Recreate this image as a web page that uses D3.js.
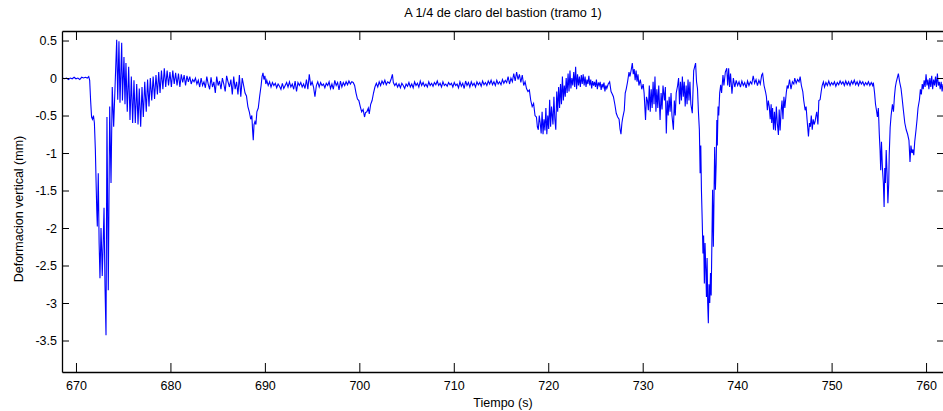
<!DOCTYPE html>
<html>
<head>
<meta charset="utf-8">
<script src="https://cdn.jsdelivr.net/npm/d3@7"></script>
<style>
  body { margin: 0; background: #fff; }
  text { font-family: "Liberation Sans", Arial, Helvetica, sans-serif; }
</style>
</head>
<body>
<script>
// textos de la figura
var titulo = "A 1/4 de claro del bastion (tramo 1)";
var etiquetaX = "Tiempo (s)";
var etiquetaY = "Deformacion vertical (mm)";

// ticks de los ejes
var ticksX = [670, 680, 690, 700, 710, 720, 730, 740, 750, 760];
var ticksY = [0.5, 0, -0.5, -1, -1.5, -2, -2.5, -3, -3.5];

// limites de los ejes
var limX = [668.52, 761.9];
var limY = [-3.92, 0.627];

// registro: [tiempo (s), deformacion (mm)]
var registro = [
  [668.55, 0.0], [668.8, -0.01], [669.0, 0.0], [669.2, -0.02], [669.4, 0.0], [669.6, -0.01],
  [669.8, 0.01], [670.0, -0.01], [670.2, 0.0], [670.4, -0.02], [670.6, 0.01], [670.8, 0.0],
  [671.0, 0.01], [671.2, 0.0], [671.35, 0.02], [671.45, -0.03], [671.55, -0.3], [671.65, -0.52],
  [671.75, -0.55], [671.85, -0.5], [671.95, -0.6], [672.05, -0.95], [672.15, -1.5], [672.2, -1.76],
  [672.26, -1.98], [672.36, -1.27], [672.45, -2.2], [672.54, -2.67], [672.65, -2.0], [672.72, -2.3],
  [672.78, -2.64], [672.88, -2.2], [672.97, -1.73], [673.07, -2.76], [673.18, -3.43], [673.28, -0.52],
  [673.42, -2.83], [673.57, -0.38], [673.71, -1.4], [673.84, -0.12], [673.99, -0.65], [674.13, -0.14],
  [674.31, 0.51], [674.42, -0.29], [674.55, 0.49], [674.66, -0.33], [674.84, 0.47], [674.92, -0.3],
  [675.08, 0.28], [675.19, -0.35], [675.29, 0.2], [675.43, -0.45], [675.58, 0.15], [675.72, -0.56],
  [675.86, 0.02], [676.0, -0.6], [676.14, -0.03], [676.28, -0.6], [676.43, -0.08], [676.57, -0.62],
  [676.7, -0.14], [676.85, -0.65], [676.99, -0.12], [677.13, -0.52], [677.28, -0.05], [677.44, -0.45],
  [677.58, -0.02], [677.73, -0.38], [677.87, 0.0], [678.02, -0.3], [678.17, 0.02], [678.32, -0.28],
  [678.47, 0.04], [678.62, -0.22], [678.76, 0.08], [678.9, -0.2], [679.05, 0.1], [679.2, -0.15],
  [679.35, 0.13], [679.5, -0.12], [679.65, 0.1], [679.8, -0.1], [679.95, 0.08], [680.1, -0.12],
  [680.25, 0.1], [680.4, -0.08], [680.55, 0.07], [680.7, -0.1], [680.85, 0.06], [681.0, -0.12],
  [681.15, 0.05], [681.3, -0.06], [681.45, 0.04], [681.6, -0.1], [681.75, 0.03], [681.9, -0.05],
  [682.05, 0.02], [682.2, -0.08], [682.35, -0.02], [682.5, -0.05], [682.65, 0.0], [682.8, -0.08],
  [682.95, -0.03], [683.1, -0.12], [683.25, 0.0], [683.4, -0.1], [683.55, -0.05], [683.7, -0.13],
  [683.85, 0.02], [684.0, -0.08], [684.15, -0.15], [684.3, 0.01], [684.45, -0.12], [684.6, -0.05],
  [684.75, -0.2], [684.9, 0.02], [685.05, -0.1], [685.2, -0.04], [685.35, -0.15], [685.5, 0.0],
  [685.65, -0.08], [685.8, -0.18], [685.95, 0.03], [686.1, -0.05], [686.25, -0.12], [686.4, -0.02],
  [686.55, -0.22], [686.7, 0.02], [686.85, -0.15], [687.0, -0.05], [687.15, -0.22], [687.3, 0.04],
  [687.45, -0.25], [687.6, 0.0], [687.75, -0.1], [687.9, -0.2], [688.05, -0.24], [688.2, -0.38],
  [688.35, -0.45], [688.5, -0.55], [688.62, -0.5], [688.7, -0.7], [688.77, -0.83], [688.85, -0.62],
  [688.95, -0.58], [689.05, -0.62], [689.15, -0.45], [689.3, -0.4], [689.45, -0.24], [689.6, -0.1],
  [689.7, 0.02], [689.8, 0.07], [689.9, -0.02], [690.0, 0.03], [690.1, -0.08], [690.2, -0.03],
  [690.35, -0.1], [690.5, -0.05], [690.65, -0.12], [690.8, -0.06], [690.95, -0.1], [691.1, -0.07],
  [691.25, -0.13], [691.4, -0.08], [691.55, -0.11], [691.7, -0.15], [691.85, -0.07], [692.0, -0.14],
  [692.15, -0.1], [692.3, -0.06], [692.45, -0.12], [692.6, -0.05], [692.75, -0.12], [692.9, -0.08],
  [693.05, -0.15], [693.2, -0.04], [693.35, -0.18], [693.5, -0.06], [693.65, -0.1], [693.8, -0.06],
  [693.95, -0.12], [694.1, -0.08], [694.25, -0.14], [694.4, -0.02], [694.55, -0.15], [694.7, 0.05],
  [694.85, -0.1], [695.0, -0.05], [695.15, -0.12], [695.3, -0.25], [695.45, -0.1], [695.6, -0.05],
  [695.75, -0.12], [695.9, -0.06], [696.05, -0.1], [696.2, -0.08], [696.35, -0.13], [696.5, -0.07],
  [696.65, -0.1], [696.8, -0.05], [696.95, -0.14], [697.1, -0.08], [697.25, -0.15], [697.4, -0.03],
  [697.55, -0.1], [697.7, -0.06], [697.85, -0.16], [698.0, -0.04], [698.15, -0.12], [698.3, -0.06],
  [698.45, -0.1], [698.6, -0.05], [698.75, -0.09], [698.9, -0.04], [699.05, -0.08], [699.2, -0.05],
  [699.35, -0.06], [699.5, -0.1], [699.65, -0.2], [699.8, -0.28], [699.95, -0.3], [700.1, -0.38],
  [700.25, -0.45], [700.4, -0.42], [700.55, -0.52], [700.65, -0.46], [700.8, -0.45], [700.95, -0.4],
  [701.05, -0.48], [701.2, -0.35], [701.35, -0.3], [701.5, -0.2], [701.65, -0.12], [701.8, -0.07],
  [701.95, -0.12], [702.1, -0.05], [702.25, -0.1], [702.4, -0.04], [702.55, -0.08], [702.7, -0.03],
  [702.85, -0.09], [703.0, -0.05], [703.2, -0.07], [703.35, -0.02], [703.5, 0.05], [703.6, -0.06],
  [703.75, -0.1], [703.9, -0.07], [704.05, -0.12], [704.2, -0.08], [704.35, -0.13], [704.5, -0.07],
  [704.65, -0.1], [704.8, -0.14], [704.95, -0.08], [705.1, -0.11], [705.25, -0.06], [705.4, -0.12],
  [705.55, -0.08], [705.7, -0.13], [705.85, -0.05], [706.0, -0.1], [706.15, -0.07], [706.3, -0.12],
  [706.45, -0.04], [706.6, -0.1], [706.75, -0.06], [706.9, -0.11], [707.05, -0.08], [707.2, -0.12],
  [707.35, -0.05], [707.5, -0.1], [707.65, -0.07], [707.8, -0.11], [707.95, -0.06], [708.1, -0.09],
  [708.25, -0.04], [708.4, -0.1], [708.55, -0.07], [708.7, -0.12], [708.85, -0.05], [709.0, -0.1],
  [709.15, -0.08], [709.3, -0.11], [709.45, -0.06], [709.6, -0.09], [709.75, -0.07], [709.9, -0.12],
  [710.05, -0.06], [710.2, -0.1], [710.35, -0.08], [710.5, -0.13], [710.65, -0.05], [710.8, -0.11],
  [710.95, -0.07], [711.1, -0.14], [711.25, -0.04], [711.4, -0.1], [711.55, -0.06], [711.7, -0.12],
  [711.85, -0.05], [712.0, -0.1], [712.15, -0.07], [712.3, -0.12], [712.45, -0.05], [712.6, -0.09],
  [712.75, -0.06], [712.9, -0.11], [713.05, -0.04], [713.2, -0.09], [713.35, -0.06], [713.5, -0.1],
  [713.65, -0.04], [713.8, -0.08], [713.95, -0.03], [714.1, -0.09], [714.25, -0.05], [714.4, -0.1],
  [714.55, -0.03], [714.7, -0.08], [714.85, -0.05], [715.0, -0.09], [715.15, -0.02], [715.3, -0.07],
  [715.45, -0.03], [715.6, -0.06], [715.75, 0.02], [715.9, -0.08], [716.05, 0.0], [716.2, -0.05],
  [716.35, 0.06], [716.5, -0.04], [716.65, 0.08], [716.8, -0.02], [716.95, 0.05], [717.1, -0.06],
  [717.25, 0.04], [717.4, -0.1], [717.55, -0.05], [717.7, -0.14], [717.85, -0.18], [718.0, -0.16],
  [718.15, -0.3], [718.3, -0.38], [718.45, -0.34], [718.6, -0.5], [718.75, -0.52], [718.85, -0.65],
  [718.95, -0.69], [719.05, -0.5], [719.15, -0.6], [719.25, -0.74], [719.35, -0.45], [719.45, -0.75],
  [719.55, -0.55], [719.65, -0.7], [719.75, -0.4], [719.85, -0.75], [719.95, -0.5], [720.05, -0.68],
  [720.15, -0.29], [720.25, -0.65], [720.35, -0.38], [720.5, -0.62], [720.6, -0.25], [720.7, -0.55],
  [720.8, -0.69], [720.9, -0.18], [721.0, -0.45], [721.1, -0.12], [721.2, -0.4], [721.3, -0.08],
  [721.4, -0.35], [721.5, 0.02], [721.6, -0.3], [721.7, -0.1], [721.8, -0.25], [721.9, 0.0],
  [722.0, -0.2], [722.1, 0.06], [722.2, -0.18], [722.3, 0.1], [722.4, -0.14], [722.5, 0.0],
  [722.6, -0.1], [722.7, 0.08], [722.8, -0.12], [722.9, 0.15], [723.0, -0.15], [723.1, 0.05],
  [723.2, -0.1], [723.3, 0.02], [723.4, -0.12], [723.5, 0.04], [723.6, -0.08], [723.7, 0.05],
  [723.8, -0.1], [723.9, 0.02], [724.0, -0.12], [724.1, -0.02], [724.2, -0.08], [724.3, 0.03],
  [724.4, -0.1], [724.5, -0.02], [724.6, -0.14], [724.7, -0.04], [724.8, -0.1], [724.9, -0.05],
  [725.0, -0.12], [725.1, -0.02], [725.2, -0.15], [725.3, -0.06], [725.4, -0.1], [725.5, -0.05],
  [725.6, -0.16], [725.7, -0.08], [725.8, -0.12], [725.9, -0.06], [726.0, -0.18], [726.1, -0.1],
  [726.2, -0.14], [726.35, -0.08], [726.5, -0.05], [726.65, -0.18], [726.8, -0.22], [726.9, -0.25],
  [727.05, -0.35], [727.2, -0.47], [727.35, -0.52], [727.5, -0.55], [727.6, -0.68], [727.7, -0.75],
  [727.8, -0.6], [727.9, -0.52], [728.05, -0.43], [728.15, -0.2], [728.25, -0.15], [728.4, -0.05],
  [728.55, 0.08], [728.65, 0.02], [728.8, 0.12], [728.9, 0.2], [729.0, 0.05], [729.1, 0.12],
  [729.2, -0.03], [729.3, 0.1], [729.4, -0.05], [729.5, 0.05], [729.6, -0.1], [729.75, -0.02],
  [729.9, -0.15], [730.05, -0.08], [730.15, -0.2], [730.3, -0.56], [730.4, -0.25], [730.5, -0.3],
  [730.6, -0.43], [730.7, -0.1], [730.8, -0.45], [730.9, -0.15], [731.0, -0.4], [731.1, -0.05],
  [731.2, -0.35], [731.3, 0.02], [731.4, -0.45], [731.5, -0.15], [731.6, -0.4], [731.7, -0.1],
  [731.84, -0.56], [731.95, -0.2], [732.05, -0.42], [732.15, -0.1], [732.3, -0.3], [732.4, -0.12],
  [732.5, -0.74], [732.6, -0.3], [732.7, -0.5], [732.8, -0.25], [732.9, -0.45], [733.0, -0.2],
  [733.1, -0.5], [733.25, -0.69], [733.35, -0.3], [733.45, -0.5], [733.55, -0.2], [733.7, -0.1],
  [733.8, 0.0], [733.9, -0.35], [734.0, -0.05], [734.1, -0.3], [734.2, 0.02], [734.3, -0.25],
  [734.4, -0.05], [734.5, -0.38], [734.6, -0.1], [734.7, -0.35], [734.8, -0.02], [734.9, -0.3],
  [735.0, -0.05], [735.1, -0.35], [735.25, -0.47], [735.4, 0.1], [735.5, 0.15], [735.6, 0.2],
  [735.7, -0.05], [735.8, -0.14], [735.9, -0.45], [736.0, -0.69], [736.08, -1.27], [736.15, -0.9],
  [736.22, -1.5], [736.3, -1.89], [736.38, -2.34], [736.45, -2.1], [736.53, -2.74], [736.6, -2.2],
  [736.68, -2.55], [736.75, -2.92], [736.82, -2.4], [736.88, -3.0], [736.95, -3.27], [737.02, -2.75],
  [737.1, -3.0], [737.18, -2.6], [737.25, -2.9], [737.32, -2.25], [737.4, -1.49], [737.48, -2.25],
  [737.55, -1.6], [737.62, -0.92], [737.7, -1.49], [737.78, -1.14], [737.85, -0.56], [737.9, -0.9],
  [737.98, -0.38], [738.05, -0.5], [738.15, -0.2], [738.26, -0.09], [738.35, -0.2], [738.5, 0.04],
  [738.6, -0.1], [738.75, 0.08], [738.9, 0.13], [739.0, -0.1], [739.1, 0.13], [739.2, -0.12],
  [739.3, 0.06], [739.45, -0.21], [739.6, 0.0], [739.75, -0.12], [739.9, -0.03], [740.05, -0.1],
  [740.2, -0.05], [740.35, -0.12], [740.5, -0.04], [740.65, -0.1], [740.8, -0.06], [740.95, -0.13],
  [741.1, -0.04], [741.25, -0.1], [741.4, -0.05], [741.55, -0.08], [741.7, 0.03], [741.85, -0.07],
  [742.0, -0.02], [742.15, -0.1], [742.3, -0.03], [742.45, -0.08], [742.6, 0.04], [742.7, 0.06],
  [742.85, -0.1], [743.0, -0.18], [743.1, -0.25], [743.2, -0.43], [743.3, -0.3], [743.4, -0.38],
  [743.5, -0.55], [743.6, -0.35], [743.66, -0.6], [743.75, -0.4], [743.85, -0.69], [743.95, -0.45],
  [744.05, -0.7], [744.15, -0.38], [744.25, -0.6], [744.37, -0.76], [744.45, -0.42], [744.55, -0.7],
  [744.65, -0.45], [744.75, -0.3], [744.85, -0.55], [744.95, -0.25], [745.05, -0.4], [745.2, -0.2],
  [745.3, -0.1], [745.4, -0.14], [745.55, -0.02], [745.7, -0.15], [745.85, -0.05], [746.0, -0.08],
  [746.1, 0.0], [746.25, -0.07], [746.4, -0.02], [746.55, -0.05], [746.67, 0.02], [746.8, -0.1],
  [746.95, -0.18], [747.05, -0.3], [747.2, -0.43], [747.3, -0.38], [747.4, -0.55], [747.55, -0.78],
  [747.65, -0.6], [747.75, -0.65], [747.85, -0.5], [747.95, -0.69], [748.05, -0.55], [748.15, -0.62],
  [748.25, -0.58], [748.35, -0.5], [748.43, -0.45], [748.55, -0.62], [748.65, -0.3], [748.78, -0.29],
  [748.9, -0.18], [749.0, -0.1], [749.13, -0.05], [749.25, -0.12], [749.4, -0.06], [749.55, -0.1],
  [749.7, -0.04], [749.85, -0.1], [750.0, -0.06], [750.15, -0.09], [750.3, -0.05], [750.45, -0.11],
  [750.6, -0.06], [750.75, -0.09], [750.9, -0.04], [751.05, -0.08], [751.2, -0.05], [751.35, -0.1],
  [751.5, -0.04], [751.65, -0.09], [751.8, -0.05], [751.95, -0.1], [752.1, -0.04], [752.25, -0.08],
  [752.4, -0.03], [752.55, -0.09], [752.7, -0.05], [752.85, -0.1], [753.0, -0.04], [753.15, -0.08],
  [753.3, -0.05], [753.45, -0.1], [753.6, -0.06], [753.75, -0.09], [753.9, -0.05], [754.05, -0.1],
  [754.2, -0.06], [754.35, -0.1], [754.42, -0.06], [754.55, -0.2], [754.65, -0.35], [754.75, -0.43],
  [754.85, -0.52], [754.95, -0.4], [755.05, -0.75], [755.13, -0.96], [755.2, -1.23], [755.28, -0.85],
  [755.38, -1.2], [755.48, -1.4], [755.56, -1.72], [755.63, -1.2], [755.7, -1.4], [755.78, -0.96],
  [755.88, -1.3], [755.96, -1.67], [756.05, -1.4], [756.1, -1.03], [756.2, -0.66], [756.3, -0.5],
  [756.44, -0.35], [756.55, -0.45], [756.65, -0.25], [756.75, -0.12], [756.85, -0.05], [756.95, 0.0],
  [757.07, 0.06], [757.2, -0.05], [757.35, -0.14], [757.45, -0.25], [757.6, -0.43], [757.75, -0.6],
  [757.9, -0.69], [758.05, -0.75], [758.19, -0.83], [758.3, -1.12], [758.4, -0.9], [758.5, -1.0],
  [758.6, -0.95], [758.7, -1.03], [758.8, -0.85], [758.94, -0.69], [759.05, -0.55], [759.15, -0.4],
  [759.3, -0.29], [759.4, -0.15], [759.5, -0.22], [759.6, -0.08], [759.7, -0.15], [759.8, -0.03],
  [759.9, -0.12], [760.0, 0.05], [760.1, -0.1], [760.2, -0.02], [760.3, -0.15], [760.4, 0.0],
  [760.5, -0.12], [760.6, 0.03], [760.7, -0.15], [760.8, -0.02], [760.9, -0.1], [761.0, 0.02],
  [761.1, -0.12], [761.2, 0.06], [761.3, -0.1], [761.4, -0.05], [761.5, -0.15], [761.6, -0.05],
  [761.7, -0.18], [761.8, -0.08]
];

var width = 943, height = 411;
var margin = {top: 31, right: -1, bottom: 39, left: 62};
var w = width - margin.left - margin.right,
    h = height - margin.top - margin.bottom;

var svg = d3.select("body").append("svg")
        .attr("width", width)
        .attr("height", height);

var g = svg.append("g")
        .attr("transform", "translate(" + margin.left + "," + margin.top + ")");

var x = d3.scaleLinear().domain(limX).range([0, w]);
var y = d3.scaleLinear().domain(limY).range([h, 0]);

// la curva
g.append("defs").append("clipPath").attr("id", "recorte")
        .append("rect").attr("width", w).attr("height", h);

var linea = d3.line()
        .x(function (d) { return x(d[0]); })
        .y(function (d) { return y(d[1]); });

g.append("path")
        .datum(registro)
        .attr("clip-path", "url(#recorte)")
        .attr("fill", "none")
        .attr("stroke", "#0000ff")
        .attr("stroke-width", 1.1)
        .attr("stroke-linejoin", "miter")
        .attr("d", linea);

// ejes estilo matlab: ticks hacia dentro en los cuatro lados
var fmt = function (d) { return String(d); };

var ejeX = g.append("g")
        .attr("transform", "translate(0," + h + ")")
        .call(d3.axisBottom(x).tickValues(ticksX).tickFormat(fmt)
                .tickSizeInner(-9).tickSizeOuter(0).tickPadding(9));
var ejeXsup = g.append("g")
        .call(d3.axisTop(x).tickValues(ticksX).tickFormat("")
                .tickSizeInner(-9).tickSizeOuter(0));
var ejeY = g.append("g")
        .call(d3.axisLeft(y).tickValues(ticksY).tickFormat(fmt)
                .tickSizeInner(-7).tickSizeOuter(0).tickPadding(5));
var ejeYder = g.append("g")
        .attr("transform", "translate(" + w + ",0)")
        .call(d3.axisRight(y).tickValues(ticksY).tickFormat("")
                .tickSizeInner(-7).tickSizeOuter(0));

[ejeX, ejeXsup, ejeY, ejeYder].forEach(function (e) {
    e.selectAll("path").attr("stroke", "#000").attr("stroke-width", 1.3);
    e.selectAll("line").attr("stroke", "#000");
    e.selectAll("text").attr("fill", "#000")
            .style("font-size", "12.5px");
});

// textos
svg.append("text")
        .attr("x", margin.left + w / 2)
        .attr("y", 17)
        .attr("text-anchor", "middle")
        .style("font-size", "12.7px")
        .text(titulo);

svg.append("text")
        .attr("x", margin.left + w / 2)
        .attr("y", 407)
        .attr("text-anchor", "middle")
        .style("font-size", "12.5px")
        .text(etiquetaX);

svg.append("text")
        .attr("transform", "translate(23,209) rotate(-90)")
        .attr("text-anchor", "middle")
        .style("font-size", "12.5px")
        .text(etiquetaY);
</script>
</body>
</html>
